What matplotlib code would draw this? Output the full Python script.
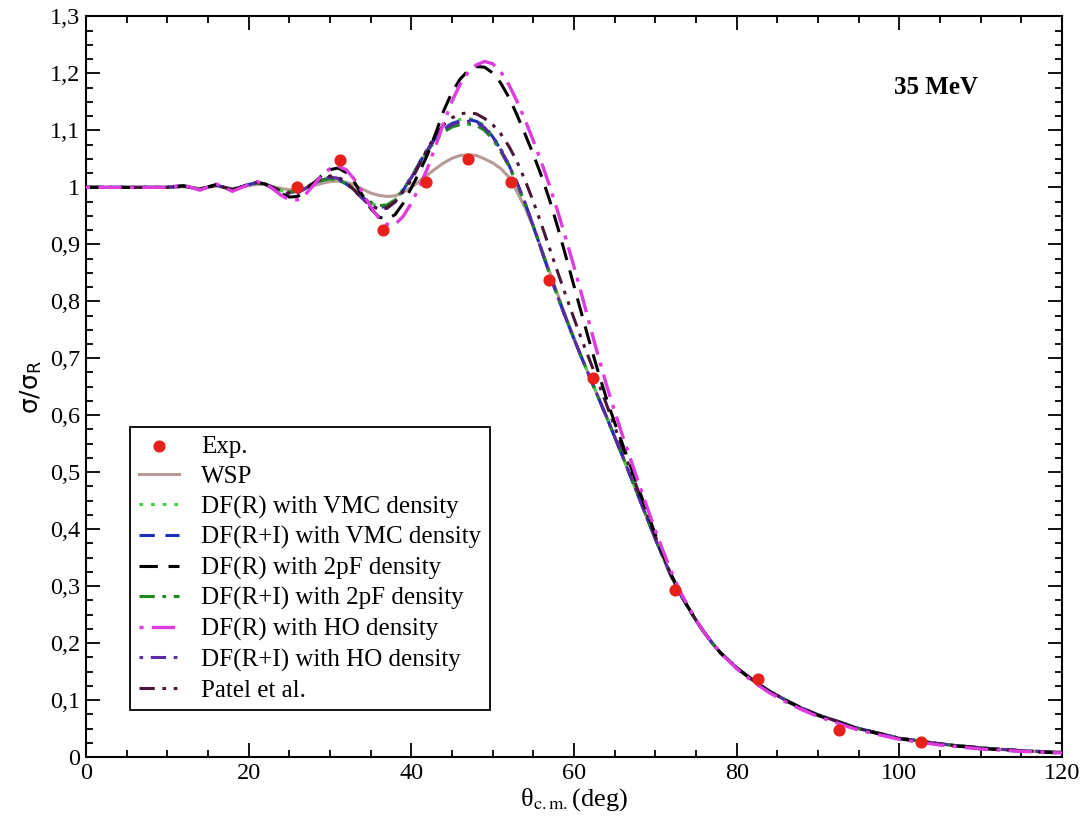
import matplotlib
matplotlib.use("Agg")
import matplotlib.pyplot as plt
from matplotlib.ticker import MultipleLocator, FuncFormatter

# ---------------- data ----------------
theta = [0, 4, 8, 10, 12, 14, 16, 18, 20, 21, 22, 23, 24, 25, 26, 27, 28, 29,
         30, 31, 32, 33, 34, 35, 36, 37, 38, 39, 40, 41, 42, 43, 44, 45, 46,
         47, 48, 49, 50, 51, 52, 53, 54, 55, 56, 57, 58, 59, 60, 61, 62, 63,
         64, 65, 66, 67, 68, 69, 70, 71, 72, 73, 74, 75, 76, 77, 78, 80, 82,
         84, 86, 88, 90, 95, 100, 105, 110, 115, 120]

wsp = [1.0, 1.0, 1.0, 1.0, 1.001, 0.998, 1.002, 0.998, 1.003, 1.005, 1.005, 1.001, 0.998, 0.996, 0.996, 0.999,
       1.003, 1.007, 1.010, 1.011, 1.009, 1.004, 0.997, 0.990, 0.986, 0.984, 0.985, 0.991, 1.000, 1.011,
       1.022, 1.033, 1.043, 1.051, 1.056, 1.057, 1.056, 1.050, 1.043, 1.033, 1.018, 0.992, 0.964, 0.930,
       0.892, 0.852, 0.812, 0.773, 0.735, 0.699, 0.665, 0.631, 0.597, 0.562, 0.527, 0.491, 0.455, 0.419,
       0.383, 0.349, 0.316, 0.288, 0.263, 0.240, 0.219, 0.200, 0.183, 0.157, 0.135, 0.116, 0.100, 0.086,
       0.074, 0.050, 0.033, 0.023, 0.016, 0.011, 0.008]

vmc_r = [1.0, 1.0, 1.0, 1.0, 1.002, 0.997, 1.004, 0.996, 1.005, 1.008, 1.006, 1.000, 0.994, 0.991, 0.993, 0.999,
         1.007, 1.013, 1.017, 1.015, 1.007, 0.996, 0.983, 0.972, 0.967, 0.968, 0.978, 0.997, 1.019, 1.044,
         1.068, 1.088, 1.103, 1.113, 1.119, 1.121, 1.118, 1.108, 1.091, 1.068, 1.040, 1.008, 0.972, 0.932,
         0.890, 0.848, 0.808, 0.770, 0.734, 0.699, 0.665, 0.631, 0.597, 0.562, 0.527, 0.491, 0.455, 0.419,
         0.383, 0.349, 0.316, 0.288, 0.263, 0.240, 0.219, 0.200, 0.183, 0.157, 0.135, 0.116, 0.100, 0.086,
         0.074, 0.050, 0.033, 0.023, 0.016, 0.011, 0.008]

vmc_ri = [1.0, 1.0, 1.0, 1.0, 1.002, 0.997, 1.004, 0.996, 1.005, 1.008, 1.006, 1.000, 0.994, 0.991, 0.993, 0.999,
          1.007, 1.013, 1.016, 1.014, 1.006, 0.995, 0.982, 0.971, 0.965, 0.966, 0.976, 0.995, 1.018, 1.043,
          1.067, 1.087, 1.102, 1.112, 1.117, 1.119, 1.116, 1.106, 1.089, 1.066, 1.039, 1.008, 0.972, 0.932,
          0.890, 0.848, 0.808, 0.770, 0.734, 0.699, 0.665, 0.631, 0.597, 0.562, 0.527, 0.491, 0.455, 0.419,
          0.383, 0.349, 0.316, 0.288, 0.263, 0.240, 0.219, 0.200, 0.183, 0.157, 0.135, 0.116, 0.100, 0.086,
          0.074, 0.050, 0.033, 0.023, 0.016, 0.011, 0.008]

pf2_r = [1.0, 1.0, 1.0, 1.0, 1.003, 0.996, 1.005, 0.995, 1.005, 1.009, 1.006, 0.998, 0.989, 0.983, 0.984, 0.993,
         1.007, 1.021, 1.031, 1.034, 1.026, 1.009, 0.986, 0.963, 0.948, 0.944, 0.952, 0.972, 0.999, 1.027,
         1.058, 1.095, 1.135, 1.167, 1.190, 1.205, 1.212, 1.211, 1.201, 1.183, 1.158, 1.127, 1.093, 1.058,
         1.020, 0.978, 0.930, 0.879, 0.827, 0.775, 0.724, 0.675, 0.629, 0.587, 0.548, 0.509, 0.469, 0.430,
         0.391, 0.353, 0.319, 0.290, 0.264, 0.240, 0.219, 0.200, 0.183, 0.156, 0.134, 0.115, 0.099, 0.085,
         0.073, 0.049, 0.032, 0.022, 0.015, 0.010, 0.007]

pf2_ri = [1.0, 1.0, 1.0, 1.0, 1.002, 0.997, 1.004, 0.996, 1.005, 1.008, 1.006, 1.000, 0.995, 0.992, 0.994, 1.000,
          1.007, 1.012, 1.015, 1.013, 1.006, 0.996, 0.984, 0.974, 0.968, 0.969, 0.978, 0.996, 1.017, 1.041,
          1.064, 1.083, 1.097, 1.106, 1.110, 1.111, 1.109, 1.100, 1.085, 1.063, 1.037, 1.006, 0.971, 0.932,
          0.891, 0.849, 0.809, 0.771, 0.734, 0.699, 0.665, 0.631, 0.597, 0.562, 0.527, 0.491, 0.455, 0.419,
          0.383, 0.349, 0.316, 0.288, 0.263, 0.240, 0.219, 0.200, 0.183, 0.157, 0.135, 0.116, 0.100, 0.086,
          0.074, 0.050, 0.033, 0.023, 0.016, 0.011, 0.008]

ho_r = [1.0, 1.0, 1.0, 1.0, 1.004, 0.995, 1.006, 0.993, 1.005, 1.010, 1.007, 0.997, 0.986, 0.978, 0.978, 0.988,
        1.004, 1.021, 1.033, 1.037, 1.031, 1.014, 0.991, 0.966, 0.946, 0.935, 0.935, 0.949, 0.972, 1.001,
        1.034, 1.073, 1.114, 1.151, 1.181, 1.202, 1.215, 1.221, 1.217, 1.203, 1.180, 1.151, 1.118, 1.082,
        1.044, 1.003, 0.958, 0.910, 0.861, 0.809, 0.755, 0.703, 0.653, 0.607, 0.563, 0.521, 0.479, 0.438,
        0.398, 0.360, 0.324, 0.293, 0.265, 0.241, 0.219, 0.200, 0.183, 0.155, 0.132, 0.113, 0.097, 0.083,
        0.071, 0.047, 0.031, 0.021, 0.014, 0.010, 0.007]

ho_ri = [1.0, 1.0, 1.0, 1.0, 1.003, 0.996, 1.005, 0.995, 1.005, 1.009, 1.006, 0.999, 0.992, 0.988, 0.990, 0.998,
         1.008, 1.015, 1.018, 1.016, 1.007, 0.994, 0.980, 0.968, 0.962, 0.963, 0.974, 0.994, 1.017, 1.042,
         1.066, 1.086, 1.101, 1.110, 1.115, 1.116, 1.114, 1.105, 1.089, 1.066, 1.039, 1.008, 0.972, 0.932,
         0.890, 0.848, 0.808, 0.770, 0.734, 0.699, 0.665, 0.631, 0.597, 0.562, 0.527, 0.491, 0.455, 0.419,
         0.383, 0.349, 0.316, 0.288, 0.263, 0.240, 0.219, 0.200, 0.183, 0.157, 0.135, 0.116, 0.100, 0.086,
         0.074, 0.050, 0.033, 0.023, 0.016, 0.011, 0.008]

patel = [1.0, 1.0, 1.0, 1.0, 1.002, 0.997, 1.004, 0.996, 1.005, 1.008, 1.006, 1.000, 0.993, 0.990, 0.992, 0.999,
         1.008, 1.016, 1.020, 1.018, 1.009, 0.995, 0.980, 0.968, 0.962, 0.964, 0.975, 0.993, 1.012, 1.040,
         1.068, 1.092, 1.110, 1.122, 1.129, 1.131, 1.129, 1.121, 1.110, 1.094, 1.072, 1.045, 1.012, 0.975,
         0.935, 0.893, 0.851, 0.810, 0.770, 0.731, 0.694, 0.657, 0.619, 0.580, 0.541, 0.502, 0.463, 0.425,
         0.388, 0.352, 0.318, 0.289, 0.264, 0.240, 0.219, 0.200, 0.183, 0.157, 0.135, 0.116, 0.100, 0.086,
         0.074, 0.050, 0.033, 0.023, 0.016, 0.011, 0.008]

exp_theta = [26.0, 31.2, 36.5, 41.8, 47.0, 52.3, 56.9, 62.4, 72.4, 82.6, 92.6, 102.7]
exp_ratio = [1.000, 1.048, 0.925, 1.010, 1.050, 1.010, 0.838, 0.666, 0.294, 0.137, 0.048, 0.027]

labels = ["Exp.", "WSP", "DF(R) with VMC density", "DF(R+I) with VMC density",
          "DF(R) with 2pF density", "DF(R+I) with 2pF density",
          "DF(R) with HO density", "DF(R+I) with HO density", "Patel et al."]
energy_label = "35 MeV"
x_ticks = [0, 20, 40, 60, 80, 100, 120]

# ---------------- figure ----------------
plt.rcParams['font.family'] = ['Liberation Serif', 'DejaVu Serif']
plt.rcParams['mathtext.fontset'] = 'stix'

fig = plt.figure(figsize=(10.91, 8.23), dpi=100)
ax = fig.add_axes([0.0788, 0.0802, 0.8946, 0.8998])

ax.plot(theta, wsp, color='#b89a96', lw=2.2, ls='-', label=labels[1], zorder=2)
ax.plot(theta, vmc_r, color='#3fd23f', lw=2.2, ls=(0, (1.2, 2.6)), label=labels[2], zorder=3)
ax.plot(theta, vmc_ri, color='#1f2fb5', lw=2.2, ls=(0, (5, 3.5)), label=labels[3], zorder=3)
ax.plot(theta, pf2_r, color='#000000', lw=2.2, ls=(0, (6, 3.5)), label=labels[4], zorder=4)
ax.plot(theta, pf2_ri, color='#1e8a1e', lw=2.2, ls=(0, (5, 2.5, 1.2, 2.5)), label=labels[5], zorder=3)
ax.plot(theta, ho_r, color='#e03be0', lw=2.4, ls=(0, (1.2, 2.5, 7, 2.5)), label=labels[6], zorder=4)
ax.plot(theta, ho_ri, color='#5b2aa6', lw=2.2, ls=(0, (1.2, 2.5, 5, 2.5)), label=labels[7], zorder=3)
ax.plot(theta, patel, color='#4a1538', lw=2.2, ls=(0, (5, 2.5, 1.2, 2.5, 1.2, 2.5)), label=labels[8], zorder=3)
ax.scatter(exp_theta, exp_ratio, s=60, color='#e8201a', zorder=6, label=labels[0])

ax.set_xlim(0, 120)
ax.set_ylim(0, 1.3)
ax.set_xticks(x_ticks)
ax.xaxis.set_minor_locator(MultipleLocator(5))
ax.yaxis.set_major_locator(MultipleLocator(0.1))
ax.yaxis.set_minor_locator(MultipleLocator(0.025))


def comma_fmt(v, pos):
    s = ('%.1f' % v)
    if s.endswith('.0'):
        s = s[:-2]
    return s.replace('.', ',')


ax.yaxis.set_major_formatter(FuncFormatter(comma_fmt))
ax.xaxis.set_major_formatter(FuncFormatter(lambda v, p: '%d' % round(v)))
ax.tick_params(which='both', direction='in', top=True, right=True, labelsize=17.5, width=1.3)
ax.tick_params(which='major', length=10, pad=4)
ax.tick_params(which='minor', length=5)
for sp in ax.spines.values():
    sp.set_linewidth(1.5)

ax.set_xlabel('θ$_{\\rm c.m.}$(deg)', fontsize=19, labelpad=2)
ax.set_ylabel('σ/σ$_{\\mathdefault{R}}$', fontsize=18, family='DejaVu Sans', labelpad=4)
ax.text(99.3, 1.176, energy_label, fontsize=18, fontweight='bold', ha='left', va='center')

handles, labs = ax.get_legend_handles_labels()
order = [8, 0, 1, 2, 3, 4, 5, 6, 7]
leg = ax.legend([handles[i] for i in order], [labs[i] for i in order],
                loc='lower left', bbox_to_anchor=(0.045, 0.063), fontsize=18,
                frameon=True, fancybox=False, edgecolor='black', framealpha=1,
                handlelength=1.6, handletextpad=0.9, labelspacing=0.3,
                borderpad=0.35, borderaxespad=0, scatterpoints=1)
leg.get_frame().set_linewidth(1.3)

fig.savefig('out.png', dpi=100)
